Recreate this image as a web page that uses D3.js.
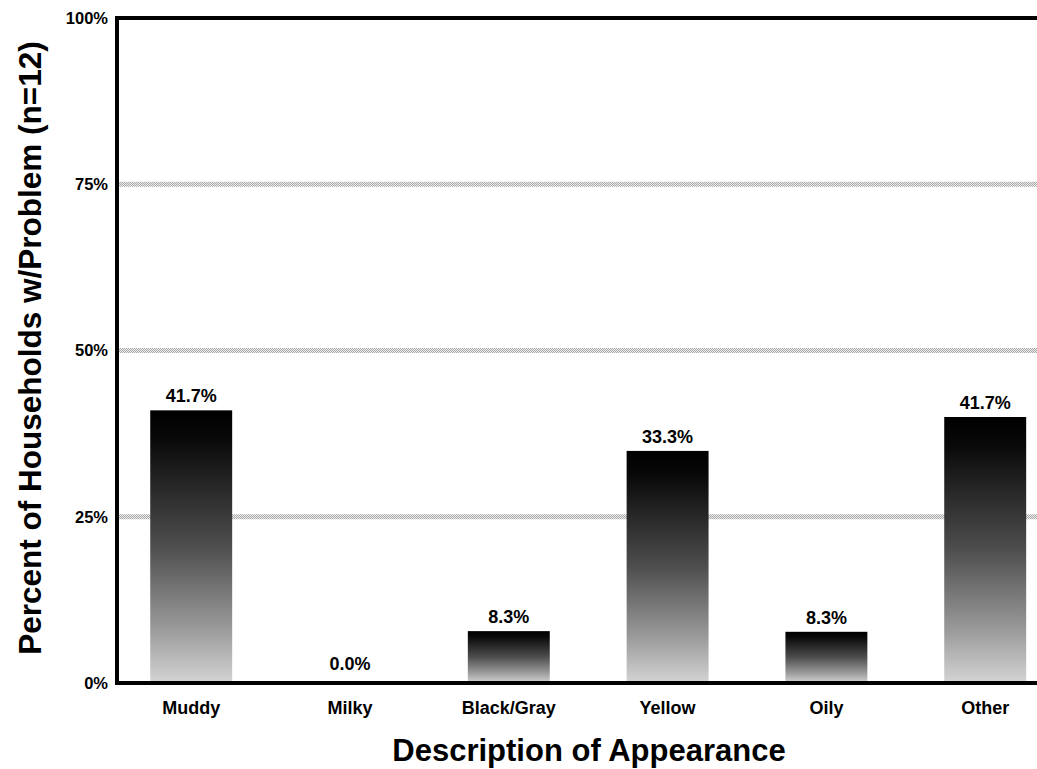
<!DOCTYPE html>
<html>
<head>
<meta charset="utf-8">
<script src="https://cdn.jsdelivr.net/npm/d3@7"></script>
<style>
  html, body { margin: 0; padding: 0; background: #fff; }
  svg { display: block; font-family: "Liberation Sans", Arial, Helvetica, sans-serif; }
</style>
</head>
<body>
<svg id="chart" width="1037" height="769"></svg>
<script>
// ---- data ----
const categories = ["Muddy", "Milky", "Black/Gray", "Yellow", "Oily", "Other"];
const barHeights = [41.0, 0, 7.8, 34.9, 7.7, 40.0];        // drawn bar heights (%)
const labelValues = [41.7, 0.0, 8.3, 33.3, 8.3, 41.7];     // printed labels (%)
const yTicks = [0, 25, 50, 75, 100];
const gridTicks = [25, 50, 75];
const xTitle = "Description of Appearance";
const yTitle = "Percent of Households w/Problem (n=12)";

const svg = d3.select("#chart");
const W = 1037, H = 769;
const plotLeft = 117, plotTop = 18, plotBottom = 683;

const y = d3.scaleLinear().domain([0, 100]).range([plotBottom, plotTop]);
const x = d3.scaleBand().domain(categories).range([111.8, 1064.6])
  .paddingInner(0.484).paddingOuter(0.242);

// gradient for bars
const defs = svg.append("defs");
const grad = defs.append("linearGradient").attr("id", "barGrad")
  .attr("x1", 0).attr("y1", 0).attr("x2", 0).attr("y2", 1);
[[0, "#000"], [0.1, "#080808"], [0.5, "#4e4e4e"], [0.8, "#9a9a9a"], [1, "#d4d4d4"]]
  .forEach(([o, c]) => grad.append("stop").attr("offset", o).attr("stop-color", c));

// stipple pattern for gridlines
const pat = defs.append("pattern").attr("id", "stip").attr("width", 2).attr("height", 2)
  .attr("patternUnits", "userSpaceOnUse");
pat.append("rect").attr("width", 2).attr("height", 2).attr("fill", "#efefef");
pat.append("rect").attr("width", 1).attr("height", 1).attr("fill", "#a6a6a6");
pat.append("rect").attr("x", 1).attr("y", 1).attr("width", 1).attr("height", 1).attr("fill", "#a6a6a6");

// gridlines
svg.append("g").selectAll("rect").data(gridTicks).join("rect")
  .attr("x", plotLeft).attr("y", d => y(d) - 2.5)
  .attr("width", W - plotLeft).attr("height", 5)
  .attr("fill", "url(#stip)");

// bars
svg.append("g").selectAll("rect").data(categories).join("rect")
  .attr("x", d => x(d))
  .attr("width", x.bandwidth())
  .attr("y", (d, i) => y(barHeights[i]))
  .attr("height", (d, i) => y(0) - y(barHeights[i]))
  .attr("fill", "url(#barGrad)");

// value labels
svg.append("g").selectAll("text").data(categories).join("text")
  .attr("x", d => x(d) + x.bandwidth() / 2)
  .attr("y", (d, i) => y(barHeights[i]) - (barHeights[i] === 0 ? 13 : 8))
  .attr("text-anchor", "middle")
  .attr("font-size", 18).attr("font-weight", "bold").attr("fill", "#000")
  .text((d, i) => labelValues[i].toFixed(1) + "%");

// frame lines
svg.append("line").attr("x1", plotLeft).attr("x2", W).attr("y1", plotTop).attr("y2", plotTop)
  .attr("stroke", "#000").attr("stroke-width", 4);
svg.append("line").attr("x1", plotLeft).attr("x2", W).attr("y1", plotBottom).attr("y2", plotBottom)
  .attr("stroke", "#000").attr("stroke-width", 4);
svg.append("line").attr("x1", plotLeft).attr("x2", plotLeft).attr("y1", plotTop - 2).attr("y2", plotBottom + 2)
  .attr("stroke", "#000").attr("stroke-width", 4);

// y axis labels
const yAxis = svg.append("g").attr("transform", `translate(${plotLeft},0)`)
  .call(d3.axisLeft(y).tickValues(yTicks).tickSize(0).tickPadding(9).tickFormat(d => d + "%"));
yAxis.select(".domain").remove();
yAxis.selectAll("text").attr("font-size", 16.5).attr("font-weight", "bold")
  .attr("font-family", "'Liberation Sans', Arial, sans-serif").attr("fill", "#000");

// x axis labels
const xAxis = svg.append("g").attr("transform", `translate(0,${plotBottom})`)
  .call(d3.axisBottom(x).tickSize(0).tickPadding(18));
xAxis.select(".domain").remove();
xAxis.selectAll("text").attr("font-size", 18).attr("font-weight", "bold")
  .attr("font-family", "'Liberation Sans', Arial, sans-serif").attr("fill", "#000");

// axis titles
svg.append("text").attr("x", 589).attr("y", 761).attr("text-anchor", "middle")
  .attr("font-size", 31).attr("font-weight", "bold").text(xTitle);
svg.append("text").attr("transform", "translate(41,348) rotate(-90)")
  .attr("text-anchor", "middle").attr("font-size", 31.5).attr("font-weight", "bold").text(yTitle);
</script>
</body>
</html>
